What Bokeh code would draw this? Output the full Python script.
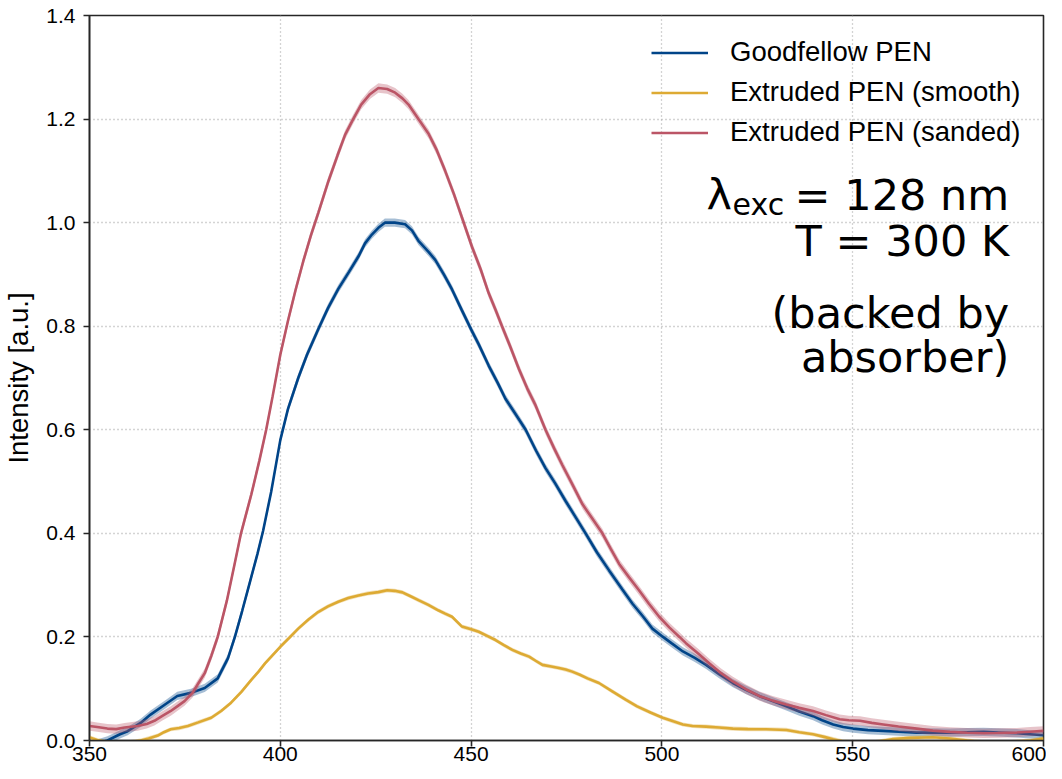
from bokeh.plotting import figure
from bokeh.models import Label, FixedTicker, PrintfTickFormatter
from bokeh.embed import file_html
from bokeh.resources import INLINE
import numpy as np

# ---------------- data ----------------
x_ticks = [350, 400, 450, 500, 550, 600]
y_ticks = [0.0, 0.2, 0.4, 0.6, 0.8, 1.0, 1.2, 1.4]

series_names = ["Goodfellow PEN", "Extruded PEN (smooth)", "Extruded PEN (sanded)"]
series_colors = ["#004488", "#DDAA33", "#BB5566"]
band_halfwidth = [0.008, 0.004, 0.009]

good_x = [350, 352, 354.7, 358, 360, 363.4, 366, 369.7, 373, 376.6, 380.2, 383.6, 386.3, 388.1,
          390, 392, 394, 395.5, 397.6, 400, 402, 404.7, 407, 410, 412.5, 415.2, 418, 420.5, 422.2,
          424, 425.7, 427.4, 430, 432.7, 434.5, 436.2, 438.9, 440.6, 443, 445, 447.5, 450, 452,
          454.6, 457, 459, 461.5, 464.3, 467, 469.5, 472, 474.8, 477.5, 480, 483, 486.2, 489.6,
          492.3, 495, 497.5, 500.2, 502.5, 505.5, 508.5, 511.6, 515, 518.6, 522, 525.6, 529,
          532.6, 536, 539.6, 542, 544.9, 547.5, 550.1, 554, 558, 562, 566.8, 571, 575.5, 580,
          584.3, 588, 593, 596.5, 600]
good_y = [-0.01, -0.006, 0.0, 0.012, 0.018, 0.034, 0.05, 0.069, 0.086, 0.092, 0.1015, 0.12, 0.159, 0.20,
          0.25, 0.305, 0.36, 0.405, 0.48, 0.58, 0.64, 0.70, 0.745, 0.795, 0.835, 0.872, 0.905, 0.935, 0.96,
          0.977, 0.99, 1.0, 1.0, 0.997, 0.985, 0.965, 0.943, 0.928, 0.898, 0.871, 0.832, 0.794, 0.765,
          0.724, 0.69, 0.66, 0.632, 0.60, 0.56, 0.526, 0.497, 0.462, 0.43, 0.40, 0.363, 0.328, 0.292,
          0.264, 0.24, 0.216, 0.2005, 0.188, 0.172, 0.16, 0.146, 0.128, 0.111, 0.098, 0.0856, 0.076,
          0.066, 0.056, 0.047, 0.039, 0.031, 0.026, 0.023, 0.02, 0.0185, 0.017, 0.0153, 0.0155, 0.0153, 0.016,
          0.0166, 0.0155, 0.014, 0.012, 0.010]

smooth_x = [350, 352, 355, 360, 363.4, 365.5, 367.9, 369.5, 371.3, 373.5, 375.8, 378.5, 381.9, 384.5,
            387.1, 389.8, 392.4, 394.3, 396, 398, 400, 402.3, 404.7, 407.3, 409.9, 412.5, 415.2, 417.8,
            420.5, 423, 425.7, 428, 430, 432, 434, 436.2, 438.8, 441.5, 443.2, 445, 447.6, 450, 452,
            454.2, 456.4, 458.6, 460.8, 463, 465.2, 466.9, 468.7, 471, 473, 474.8, 476.5, 478.5, 480.5,
            483.5, 487, 490.5, 493.5, 497, 500.2, 503, 505.5, 508, 511.6, 515, 518.6, 522.5, 527.3,
            532.6, 536, 539.6, 542.5, 544.9, 547.5, 552, 556, 560.6, 565, 571, 575.5, 580, 585, 590,
            596.6, 600]
smooth_y = [0.006, 0.001, -0.004, -0.004, 0.0, 0.004, 0.0096, 0.016, 0.0217, 0.024, 0.028, 0.035, 0.044, 0.057,
            0.073, 0.094, 0.117, 0.133, 0.149, 0.165, 0.181, 0.198, 0.216, 0.233, 0.248, 0.259, 0.268, 0.275,
            0.280, 0.284, 0.2865, 0.29, 0.289, 0.286, 0.279, 0.271, 0.262, 0.251, 0.245, 0.239, 0.22, 0.215, 0.21,
            0.202, 0.194, 0.184, 0.175, 0.168, 0.162, 0.154, 0.146, 0.143, 0.14, 0.137, 0.133, 0.127, 0.12,
            0.111, 0.095, 0.079, 0.066, 0.054, 0.044, 0.037, 0.031, 0.028, 0.0268, 0.025, 0.023, 0.022, 0.0217,
            0.0204, 0.016, 0.012, 0.007, 0.0026, -0.002, -0.004, -0.003, 0.003, 0.005, 0.0064, 0.004, 0.0, -0.004, -0.004,
            0.0, 0.004]

sanded_x = [350, 352, 354.7, 357, 359.2, 362.6, 365, 367, 369, 371.3, 373, 374.9, 377, 378.5, 380.2,
            381.9, 383.6, 386, 388, 389.7, 392.4, 394.5, 396.3, 398, 400, 402, 404, 406, 408, 410,
            412.6, 415, 417, 419.1, 421.2, 423.5, 425.7, 428, 430.1, 432, 433.6, 436.2, 438.9, 441,
            443.2, 445.5, 447.6, 450.2, 452.5, 454.6, 456.5, 458.1, 460.3, 462.5, 464.7, 466.9, 469.5,
            471.7, 473.9, 476.5, 479.2, 481.8, 484.4, 486.6, 488.8, 491.4, 494, 496.6, 499.3, 502,
            504.6, 506.3, 509.5, 512.4, 515.5, 518.6, 522, 525.6, 529, 532.6, 536, 539.6, 543, 546.6,
            549, 551.9, 555, 558, 562, 566.8, 571, 575.5, 580, 584.3, 588, 593, 596.5, 600]
sanded_y = [0.028, 0.026, 0.023, 0.022, 0.025, 0.028, 0.032, 0.038, 0.047, 0.057, 0.066, 0.076, 0.092, 0.11, 0.13,
            0.163, 0.20, 0.27, 0.34, 0.40, 0.475, 0.54, 0.60, 0.665, 0.745, 0.81, 0.87, 0.925, 0.975, 1.02,
            1.08, 1.13, 1.17, 1.20, 1.228, 1.248, 1.26, 1.258, 1.251, 1.24, 1.228, 1.2, 1.171, 1.14,
            1.10, 1.055, 1.01, 0.954, 0.91, 0.864, 0.83, 0.80, 0.76, 0.718, 0.68, 0.647, 0.60,
            0.565, 0.532, 0.495, 0.456, 0.428, 0.40, 0.37, 0.341, 0.315, 0.29, 0.264, 0.239, 0.218,
            0.2, 0.188, 0.168, 0.149, 0.13, 0.114, 0.099, 0.0856, 0.077, 0.0695, 0.063, 0.057, 0.049, 0.041,
            0.039, 0.038, 0.034, 0.031, 0.027, 0.023, 0.019, 0.0166, 0.015, 0.014, 0.0145, 0.0153, 0.017, 0.0185]

series_x = [good_x, smooth_x, sanded_x]
series_y = [good_y, smooth_y, sanded_y]

# ---------------- figure ----------------
p = figure(width=1046, height=763, x_range=(350, 600), y_range=(0, 1.4),
           output_backend="svg", toolbar_location=None,
           min_border_top=15, min_border_right=3, min_border_left=84, min_border_bottom=10)
p.background_fill_color = "white"
p.border_fill_color = "white"
p.outline_line_color = "#262626"
p.outline_line_width = 1.6
p.outline_line_alpha = 1.0

TICK_FONT = "Liberation Sans"
for ax in (p.xaxis[0], p.yaxis[0]):
    ax.axis_line_color = "#262626"
    ax.axis_line_width = 1.6
    ax.major_tick_line_color = "#262626"
    ax.major_tick_line_width = 1.6
    ax.major_tick_out = 6
    ax.major_tick_in = 0
    ax.minor_tick_out = 0
    ax.minor_tick_in = 0
    ax.major_label_text_font = TICK_FONT
    ax.major_label_text_font_size = "21px"
    ax.major_label_text_color = "black"

p.xaxis.ticker = FixedTicker(ticks=x_ticks)
p.yaxis.ticker = FixedTicker(ticks=y_ticks)
p.yaxis.formatter = PrintfTickFormatter(format="%.1f")
p.xaxis.formatter = PrintfTickFormatter(format="%d")
p.xaxis.major_label_standoff = 0
p.yaxis.major_label_standoff = 8

p.yaxis.axis_label = "Intensity [a.u.]"
p.yaxis.axis_label_text_font = TICK_FONT
p.yaxis.axis_label_text_font_size = "27.5px"
p.yaxis.axis_label_text_font_style = "normal"
p.yaxis.axis_label_text_color = "black"
p.yaxis.axis_label_standoff = 9

for g in (p.xgrid[0], p.ygrid[0]):
    g.grid_line_color = "#a8a8a8"
    g.grid_line_dash = "1 3"
    g.grid_line_width = 1.3

for xs, ys, name, col, hw in zip(series_x, series_y, series_names, series_colors, band_halfwidth):
    xa = np.array(xs, dtype=float)
    ya = np.array(ys, dtype=float)
    p.varea(x=xa, y1=ya - hw, y2=ya + hw, fill_color=col, fill_alpha=0.35)
    p.line(xa, ya, line_color=col, line_width=2.6, legend_label=name)

lg = p.legend[0]
lg.location = (562, 592)
lg.border_line_color = None
lg.background_fill_alpha = 0
lg.label_text_font = TICK_FONT
lg.label_text_font_size = "27.5px"
lg.label_text_color = "black"
lg.glyph_width = 57
lg.glyph_height = 31
lg.label_height = 31
lg.spacing = 8
lg.label_standoff = 22
lg.padding = 15
lg.margin = 0

ANN_FONT = "DejaVu Sans"
BIG = "43px"
p.add_layout(Label(x=511.7, y=1.054, text="λ", text_font=ANN_FONT, text_font_size=BIG,
                   text_align="left", text_baseline="alphabetic", text_color="black"))
p.add_layout(Label(x=518.5, y=1.035, text="exc", text_font=ANN_FONT, text_font_size="30px",
                   text_align="left", text_baseline="alphabetic", text_color="black"))
p.add_layout(Label(x=591.0, y=1.054, text="= 128 nm", text_font=ANN_FONT, text_font_size=BIG,
                   text_align="right", text_baseline="alphabetic", text_color="black"))
p.add_layout(Label(x=591.0, y=0.964, text="T = 300 K", text_font=ANN_FONT, text_font_size=BIG,
                   text_align="right", text_baseline="alphabetic", text_color="black"))
p.add_layout(Label(x=591.0, y=0.826, text="(backed by", text_font=ANN_FONT, text_font_size=BIG,
                   text_align="right", text_baseline="alphabetic", text_color="black"))
p.add_layout(Label(x=591.0, y=0.741, text="absorber)", text_font=ANN_FONT, text_font_size=BIG,
                   text_align="right", text_baseline="alphabetic", text_color="black"))

open("out.html", "w").write(file_html(p, INLINE))
